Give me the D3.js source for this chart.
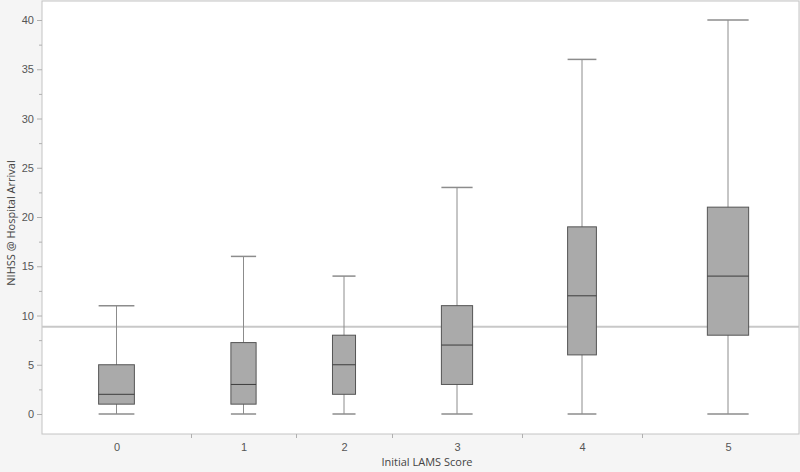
<!DOCTYPE html>
<html>
<head>
<meta charset="utf-8">
<script src="https://cdn.jsdelivr.net/npm/d3@7"></script>
<style>
    body { margin: 0; background: #f5f5f5; }
    svg { display: block; font-family: "Open Sans", "Noto Sans", sans-serif; }
    .axis text { fill: #555; font-size: 11px; }
    .axis path, .axis line { stroke: #b0b0b0; }
    .title { fill: #444; font-size: 11px; }
</style>
</head>
<body>
<script>
(function() {
    // data
    var categories = ["0", "1", "2", "3", "4", "5"];
    var counts = [149, 105, 96, 130, 120, 172];   // group sizes, set the band widths
    var mins = [0, 0, 0, 0, 0, 0];
    var q1s = [1, 1, 2, 3, 6, 8];
    var medians = [2, 3, 5, 7, 12, 14];
    var q3s = [5, 7.25, 8, 11, 19, 21];
    var maxs = [11, 16, 14, 23, 36, 40];
    var refLine = 8.87;
    var yTicks = [0, 5, 10, 15, 20, 25, 30, 35, 40];

    var width = 800, height = 472;
    var plot = { left: 42, top: 1, right: 799, bottom: 434 };

    var svg = d3.select("body").append("svg")
        .attr("width", width)
        .attr("height", height);

    // cumulative band edges
    var edges = [0];
    counts.forEach(function(c, i) { edges.push(edges[i] + c); });

    var x = d3.scaleLinear()
        .domain([0, edges[edges.length - 1]])
        .range([plot.left, 814]);

    var y = d3.scaleLinear()
        .domain([0, 40])
        .range([414, 20]);

    var dataset = categories.map(function(c, i) {
        return {
            name: c,
            lo: edges[i],
            hi: edges[i + 1],
            mid: (edges[i] + edges[i + 1]) / 2,
            min: mins[i], q1: q1s[i], med: medians[i], q3: q3s[i], max: maxs[i]
        };
    });

    // plot background
    svg.append("rect")
        .attr("x", plot.left)
        .attr("y", plot.top)
        .attr("width", plot.right - plot.left)
        .attr("height", plot.bottom - plot.top)
        .attr("fill", "#fff")
        .attr("stroke", "#c4c4c4");

    // reference line
    svg.append("line")
        .attr("x1", plot.left).attr("x2", plot.right)
        .attr("y1", y(refLine)).attr("y2", y(refLine))
        .attr("stroke", "#c8c8c8")
        .attr("stroke-width", 2);

    // y axis, minor ticks first
    var minor = d3.range(2.5, 40, 5);
    svg.append("g")
        .attr("class", "axis")
        .attr("transform", "translate(" + plot.left + ",0)")
        .call(d3.axisLeft(y).tickValues(minor).tickSize(3).tickFormat(""))
        .call(function(g) { g.select(".domain").remove(); });

    svg.append("g")
        .attr("class", "axis")
        .attr("transform", "translate(" + plot.left + ",0)")
        .call(d3.axisLeft(y).tickValues(yTicks).tickSize(5).tickPadding(3))
        .call(function(g) { g.select(".domain").remove(); });

    // x axis: separators between bands
    svg.append("g")
        .attr("class", "axis")
        .attr("transform", "translate(0," + plot.bottom + ")")
        .call(d3.axisBottom(x).tickValues(edges.slice(1, -1)).tickSize(4).tickFormat(""))
        .call(function(g) { g.select(".domain").remove(); });

    svg.append("g")
        .attr("class", "axis")
        .attr("transform", "translate(0," + plot.bottom + ")")
        .call(d3.axisBottom(x)
            .tickValues(dataset.map(function(d) { return d.mid; }))
            .tickSize(0)
            .tickPadding(9)
            .tickFormat(function(v, i) { return categories[i]; }))
        .call(function(g) { g.select(".domain").remove(); });

    // boxes
    var g = svg.selectAll(".box")
        .data(dataset)
        .enter()
            .append("g")
            .classed("box", true);

    function boxHalf(d) { return (x(d.hi) - x(d.lo)) * 0.12; }

    // whisker stem
    g.append("line")
        .attr("x1", function(d) { return x(d.mid); })
        .attr("x2", function(d) { return x(d.mid); })
        .attr("y1", function(d) { return y(d.min); })
        .attr("y2", function(d) { return y(d.max); })
        .attr("stroke", "#8c8c8c");

    // caps
    ["min", "max"].forEach(function(k) {
        g.append("line")
            .attr("x1", function(d) { return x(d.mid) - boxHalf(d); })
            .attr("x2", function(d) { return x(d.mid) + boxHalf(d); })
            .attr("y1", function(d) { return y(d[k]); })
            .attr("y2", function(d) { return y(d[k]); })
            .attr("stroke", "#8c8c8c")
            .attr("stroke-width", 1.5);
    });

    g.append("rect")
        .attr("x", function(d) { return x(d.mid) - boxHalf(d); })
        .attr("width", function(d) { return boxHalf(d) * 2; })
        .attr("y", function(d) { return y(d.q3); })
        .attr("height", function(d) { return y(d.q1) - y(d.q3); })
        .attr("fill", "#aaaaaa")
        .attr("stroke", "#555");

    g.append("line")
        .attr("x1", function(d) { return x(d.mid) - boxHalf(d); })
        .attr("x2", function(d) { return x(d.mid) + boxHalf(d); })
        .attr("y1", function(d) { return y(d.med); })
        .attr("y2", function(d) { return y(d.med); })
        .attr("stroke", "#3c3c3c");

    // titles
    svg.append("text")
        .attr("class", "title")
        .attr("x", 427)
        .attr("y", 466)
        .attr("text-anchor", "middle")
        .text("Initial LAMS Score");

    svg.append("text")
        .attr("class", "title")
        .attr("transform", "translate(15,223) rotate(-90)")
        .attr("text-anchor", "middle")
        .text("NIHSS @ Hospital Arrival");
})()
</script>
</body>
</html>
